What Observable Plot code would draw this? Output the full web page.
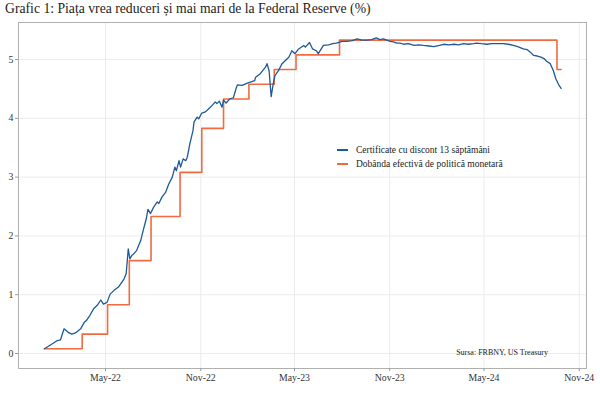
<!DOCTYPE html>
<html>
<head>
<meta charset="utf-8">
<script src="https://cdn.jsdelivr.net/npm/d3@7"></script>
<script src="https://cdn.jsdelivr.net/npm/@observablehq/plot@0.6"></script>
<style>
  body { margin: 0; background: #fff; font-family: "Liberation Serif", "DejaVu Serif", serif; }
  #wrap { position: relative; width: 600px; height: 399px; }
  #title { position: absolute; left: 5px; top: 1px; font-size: 13.7px; color: #222; white-space: nowrap; height: 20px; }
  #chart { position: absolute; left: 0; top: 20px; }
  .leg { position: absolute; left: 337px; font-family: "Liberation Serif", serif; font-size: 9.5px; color: #222; white-space: nowrap; display: flex; align-items: center; height: 12px; }
  .leg span.sw { display: inline-block; width: 11px; height: 1.2px; margin-right: 8px; }
  #cap { position: absolute; right: 52px; top: 348px; font-family: "Liberation Serif", serif; font-size: 8px; color: #222; white-space: nowrap; }
</style>
</head>
<body>
<div id="wrap">
  <div id="title">Grafic 1: Piața vrea reduceri și mai mari de la Federal Reserve (%)</div>
  <div id="chart"></div>
  <div class="leg" style="top:144px"><span class="sw" style="background:#1d5a97"></span>Certificate cu discont 13 săptămâni</div>
  <div class="leg" style="top:158px"><span class="sw" style="background:#f26a3f"></span>Dobânda efectivă de politică monetară</div>
  <div id="cap">Sursa: FRBNY, US Treasury</div>
</div>
<script>
// 13-week T-bill yield (%)
const tbillDates = [
"2022-01-03","2022-01-14","2022-01-28","2022-02-03","2022-02-10","2022-02-14","2022-02-18","2022-02-25","2022-03-04","2022-03-14",
"2022-03-21","2022-03-25","2022-04-01","2022-04-08","2022-04-15","2022-04-22","2022-04-27","2022-05-04","2022-05-10","2022-05-17",
"2022-05-26","2022-06-06","2022-06-10","2022-06-14","2022-06-17","2022-06-21","2022-06-24","2022-06-30","2022-07-05","2022-07-08",
"2022-07-13","2022-07-19","2022-07-22","2022-07-27","2022-08-02","2022-08-09","2022-08-12","2022-08-18","2022-08-25","2022-08-31",
"2022-09-07","2022-09-12","2022-09-15","2022-09-20","2022-09-23","2022-09-28","2022-10-03","2022-10-06","2022-10-11","2022-10-17",
"2022-10-19","2022-10-25","2022-10-28","2022-11-03","2022-11-10","2022-11-16","2022-11-23","2022-11-29","2022-12-02","2022-12-07",
"2022-12-12","2022-12-15","2022-12-20","2022-12-27","2023-01-03","2023-01-09","2023-01-11","2023-01-20","2023-01-30","2023-02-06",
"2023-02-13","2023-02-15","2023-02-24","2023-03-06","2023-03-09","2023-03-13","2023-03-17","2023-03-21","2023-03-24","2023-03-31",
"2023-04-07","2023-04-13","2023-04-20","2023-04-26","2023-05-02","2023-05-09","2023-05-19","2023-05-22","2023-05-30","2023-06-05",
"2023-06-12","2023-06-16","2023-06-26","2023-07-06","2023-07-14","2023-07-21","2023-08-01","2023-08-10","2023-08-21","2023-08-30",
"2023-09-08","2023-09-18","2023-09-27","2023-10-06","2023-10-13","2023-10-20","2023-10-26","2023-11-02","2023-11-08","2023-11-15",
"2023-11-21","2023-11-28","2023-12-07","2023-12-18","2023-12-27","2024-01-05","2024-01-16","2024-01-25","2024-02-05","2024-02-13",
"2024-02-23","2024-03-04","2024-03-13","2024-03-22","2024-04-01","2024-04-11","2024-04-17","2024-04-26","2024-05-07","2024-05-16",
"2024-05-24","2024-06-07","2024-06-17","2024-06-27","2024-07-05","2024-07-16","2024-07-23","2024-07-29","2024-08-05","2024-08-12",
"2024-08-19","2024-08-26","2024-08-30","2024-09-06","2024-09-12","2024-09-17","2024-09-23","2024-09-27"
];
const tbillRates = [
0.08,0.14,0.22,0.23,0.42,0.39,0.36,0.33,0.35,0.42,
0.53,0.56,0.65,0.76,0.82,0.91,0.84,0.87,1.01,1.07,
1.13,1.27,1.36,1.78,1.61,1.67,1.69,1.75,1.86,1.92,
2.10,2.30,2.45,2.38,2.49,2.58,2.55,2.66,2.74,2.88,
3.00,3.17,3.11,3.28,3.17,3.31,3.28,3.34,3.57,3.79,
3.94,4.02,3.99,4.09,4.11,4.16,4.22,4.28,4.25,4.29,
4.19,4.31,4.26,4.33,4.35,4.53,4.57,4.56,4.60,4.62,
4.64,4.70,4.76,4.87,4.93,4.81,4.37,4.59,4.72,4.81,
4.93,4.98,5.04,5.15,5.10,5.18,5.24,5.21,5.29,5.18,
5.15,5.10,5.24,5.25,5.27,5.28,5.31,5.31,5.32,5.35,
5.33,5.33,5.34,5.37,5.34,5.35,5.33,5.31,5.30,5.28,
5.28,5.26,5.27,5.24,5.25,5.24,5.23,5.22,5.24,5.26,
5.25,5.26,5.25,5.27,5.26,5.27,5.28,5.27,5.26,5.27,
5.27,5.27,5.26,5.24,5.22,5.18,5.17,5.13,5.07,5.06,
5.04,5.01,4.97,4.93,4.81,4.67,4.56,4.51
];
// Effective fed funds rate (%), step changes
const policyDates = ["2022-01-03","2022-03-17","2022-05-05","2022-06-16","2022-07-28","2022-09-22","2022-11-03","2022-12-15","2023-02-02","2023-03-23","2023-05-04","2023-07-27","2024-09-19","2024-09-27"];
const policyRates = [0.08,0.33,0.83,1.58,2.33,3.08,3.83,4.33,4.58,4.83,5.08,5.33,4.83,4.83];

const xTickDates = ["2022-05-01","2022-11-01","2023-05-01","2023-11-01","2024-05-01","2024-11-01"];
const yTicks = [0,1,2,3,4,5];

const tbill = tbillDates.map((d, i) => ({date: new Date(d), value: tbillRates[i]}));
const policy = policyDates.map((d, i) => ({date: new Date(d), value: policyRates[i]}));
const xTicks = xTickDates.map(d => new Date(d));
const fmt = d3.utcFormat("%b-%y");

const chart = Plot.plot({
  width: 600,
  height: 379,
  marginTop: 2,
  marginLeft: 18,
  marginRight: 14,
  marginBottom: 31,
  style: {fontFamily: "Liberation Serif, serif", fontSize: "9.8px", color: "#333", background: "#fff"},
  x: {type: "utc", domain: [new Date("2021-11-14"), new Date("2024-11-15")], label: null},
  y: {domain: [-0.255, 5.63], label: null},
  marks: [
    Plot.gridX(xTicks, {stroke: "#ececec", strokeOpacity: 1}),
    Plot.gridY(yTicks, {stroke: "#ececec", strokeOpacity: 1}),
    Plot.frame({stroke: "#b0b0b0", strokeWidth: 1}),
    Plot.axisX(xTicks, {tickFormat: fmt, tickSize: 3, tickPadding: 3, stroke: "#999", fill: "#333"}),
    Plot.axisY(yTicks, {tickFormat: d => String(d), tickSize: 3, tickPadding: 2, stroke: "#999", fill: "#333"}),
    Plot.line(policy, {x: "date", y: "value", curve: "step-after", stroke: "#f26a3f", strokeWidth: 1.6}),
    Plot.line(tbill, {x: "date", y: "value", stroke: "#1d5a97", strokeWidth: 1.3})
  ]
});
document.getElementById("chart").appendChild(chart);
</script>
</body>
</html>
